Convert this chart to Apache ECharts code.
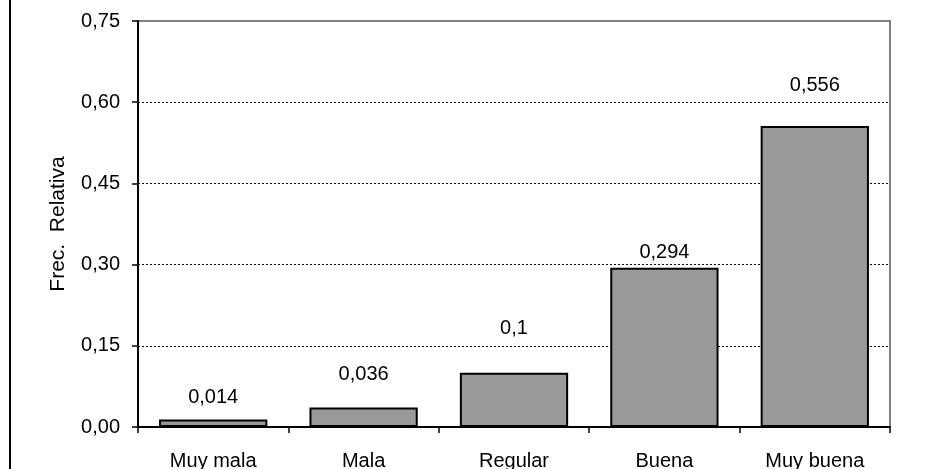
<!DOCTYPE html>
<html>
<head>
<meta charset="utf-8">
<script src="https://cdn.jsdelivr.net/npm/echarts@6/dist/echarts.min.js"></script>
<style>
html,body{margin:0;padding:0;background:#fff;}
#chart{width:945px;height:469px;}
</style>
</head>
<body>
<div id="chart"></div>
<script>
const categories = ['Muy mala', 'Mala', 'Regular', 'Buena', 'Muy buena'];
const values = [0.014, 0.036, 0.1, 0.294, 0.556];
const valueLabels = ['0,014', '0,036', '0,1', '0,294', '0,556'];
const yTicks = [0, 0.15, 0.30, 0.45, 0.60, 0.75];
const yName = 'Frec.  Relativa';

// label gap above each bar (style)
const labelGap = [12, 23, 34, 5, 31];

const font = '"Liberation Sans", Arial, sans-serif';
const chart = echarts.init(document.getElementById('chart'), null, {renderer: 'canvas'});

chart.setOption({
  animation: false,
  backgroundColor: '#fff',
  graphic: [{
    type: 'rect',
    shape: {x: 9, y: 0, width: 2, height: 469},
    style: {fill: '#000'},
    silent: true
  }],
  grid: {
    left: 138, right: 55, top: 21, bottom: 42,
    show: true, borderColor: '#808080', borderWidth: 2,
    containLabel: false,
    outerBoundsMode: 'none'
  },
  xAxis: {
    type: 'category',
    data: categories,
    axisLine: {lineStyle: {color: '#000', width: 2}},
    axisTick: {show: true, alignWithLabel: false, length: 6, lineStyle: {color: '#000', width: 1.5}},
    axisLabel: {color: '#000', fontSize: 20, fontFamily: font, margin: 24},
    splitLine: {show: false}
  },
  yAxis: {
    type: 'value',
    min: 0, max: 0.75, interval: 0.15,
    name: yName,
    nameLocation: 'middle',
    nameGap: 69,
    nameRotate: 90,
    nameTextStyle: {color: '#000', fontSize: 21, fontFamily: font},
    axisLine: {show: true, lineStyle: {color: '#000', width: 2}},
    axisTick: {show: true, length: 6, lineStyle: {color: '#000', width: 1.5}},
    axisLabel: {
      color: '#000', fontSize: 20, fontFamily: font, margin: 18,
      formatter: v => {
        const t = yTicks.find(x => Math.abs(x - v) < 1e-9);
        return (t !== undefined ? t : v).toFixed(2).replace('.', ',');
      }
    },
    splitLine: {
      show: true, showMinLine: false, showMaxLine: false,
      lineStyle: {color: '#000', type: [2, 2], width: 1}
    }
  },
  series: [{
    type: 'bar',
    barCategoryGap: '28%',
    data: values.map((v, i) => ({
      value: v,
      label: {distance: labelGap[i]}
    })),
    itemStyle: {color: '#999999', borderColor: '#000', borderWidth: 2},
    label: {
      show: true, position: 'top', color: '#000', fontSize: 20, fontFamily: font,
      formatter: p => valueLabels[p.dataIndex]
    }
  }]
});
</script>
</body>
</html>
